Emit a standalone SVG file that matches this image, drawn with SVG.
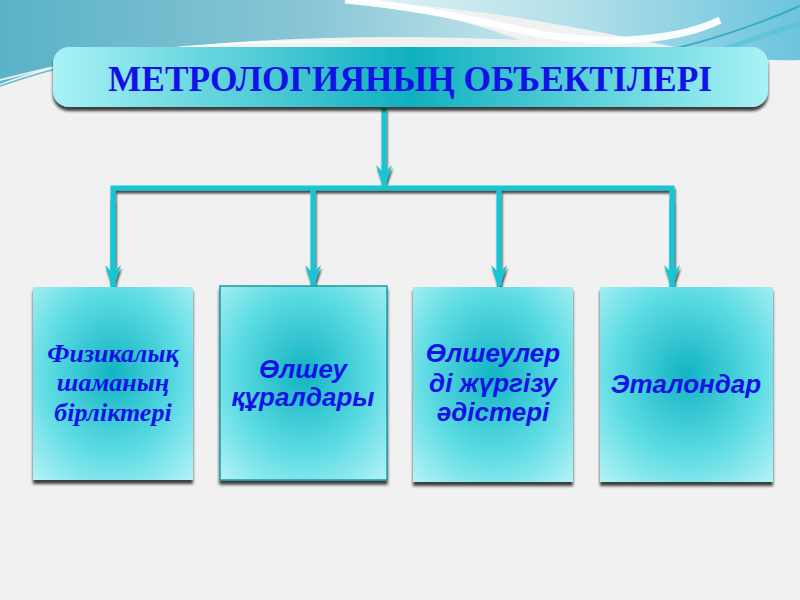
<svg xmlns="http://www.w3.org/2000/svg" width="800" height="600" viewBox="0 0 800 600">
<defs>
<linearGradient id="titleGrad" x1="0" y1="0" x2="1" y2="0">
<stop offset="0" stop-color="#a8f2f6"/>
<stop offset="0.5" stop-color="#0fb0bf"/>
<stop offset="1" stop-color="#a8f2f6"/>
</linearGradient>
<radialGradient id="boxGrad" cx="0.5" cy="0.45" r="0.75">
<stop offset="0" stop-color="#12b4c2"/>
<stop offset="0.55" stop-color="#5cdbe3"/>
<stop offset="1" stop-color="#b5f4f7"/>
</radialGradient>
<linearGradient id="bgTeal" x1="0" y1="0" x2="1" y2="0">
<stop offset="0" stop-color="#5ab2c6"/>
<stop offset="0.6" stop-color="#8ac6d6"/>
<stop offset="1" stop-color="#c0e4ec"/>
</linearGradient>
<linearGradient id="bgRight" x1="0" y1="0" x2="1" y2="0">
<stop offset="0" stop-color="#e4f4f6"/>
<stop offset="0.5" stop-color="#b4e0ea"/>
<stop offset="1" stop-color="#6cc4dc"/>
</linearGradient>
<filter id="shadow" x="-10%" y="-10%" width="120%" height="130%">
<feDropShadow dx="0" dy="4" stdDeviation="1.5" flood-color="#000" flood-opacity="0.75"/>
</filter>
<filter id="lineShadow" x="-10%" y="-10%" width="120%" height="130%">
<feDropShadow dx="1" dy="3" stdDeviation="0.8" flood-color="#000" flood-opacity="0.7"/>
</filter>
<marker id="arrow" markerWidth="24" markerHeight="18" refX="21" refY="9" orient="auto" markerUnits="userSpaceOnUse" viewBox="0 0 24 18">
<path d="M0,1 L8,9 L0,17 L24,9 Z" fill="#12c6d4"/>
</marker>
</defs>
<style>
.conn { stroke: #12c6d4; stroke-width: 5; fill: none; }
.box { fill: url(#boxGrad); filter: url(#shadow); }
.lbl { fill: #1212e6; font-weight: bold; font-style: italic; text-anchor: middle; }
.serif { font-family: "Liberation Serif", "Times New Roman", serif; font-size: 26px; }
.sans { font-family: "Liberation Sans", Arial, sans-serif; font-size: 26px; }
</style>

<!-- background -->
<rect x="0" y="0" width="800" height="600" fill="#f1f1f1"/>
<path d="M340,0 H800 V60 C740,62 690,50 640,40 C560,24 470,6 340,0 Z" fill="url(#bgRight)"/>
<path d="M0,0 H350 C420,8 470,22 520,40 C400,34 250,36 120,54 C70,62 30,72 0,84 Z" fill="url(#bgTeal)"/>
<path d="M345,0 C430,8 480,22 540,34 C610,46 680,40 720,20" fill="none" stroke="#ffffff" stroke-width="7" opacity="0.95"/>
<path d="M620,60 C690,48 750,28 800,6" fill="none" stroke="#2fa8c4" stroke-width="2" opacity="0.9"/>
<path d="M690,60 C730,48 770,32 800,24" fill="none" stroke="#56c2d8" stroke-width="5" opacity="0.7"/>
<path d="M0,80 C40,70 80,60 120,54 C200,44 280,40 350,42" fill="none" stroke="#ffffff" stroke-width="2" opacity="0.8"/>
<path d="M0,86 C30,76 60,66 100,60" fill="none" stroke="#3bb0c0" stroke-width="1.5" opacity="0.8"/>

<!-- connectors -->
<g id="connectors" filter="url(#lineShadow)">
<path class="conn" d="M384,108 V186" marker-end="url(#arrow)"/>
<path class="conn" d="M113,288 V188 H672 V288"/>
<path class="conn" d="M113,200 V286" marker-end="url(#arrow)"/>
<path class="conn" d="M313,188 V286" marker-end="url(#arrow)"/>
<path class="conn" d="M499,188 V286" marker-end="url(#arrow)"/>
<path class="conn" d="M672,200 V286" marker-end="url(#arrow)"/>
</g>

<!-- title -->
<g id="title">
<rect x="53" y="47" width="715" height="60" rx="16" ry="16" fill="url(#titleGrad)" filter="url(#shadow)"/>
<text x="410" y="91" text-anchor="middle" font-family="Liberation Serif, 'Times New Roman', serif" font-size="36" font-weight="bold" fill="#1212e6" textLength="604" lengthAdjust="spacingAndGlyphs">МЕТРОЛОГИЯНЫҢ ОБЪЕКТІЛЕРІ</text>
</g>

<!-- nodes -->
<g id="node1">
<rect class="box" x="33" y="287" width="160" height="193"/>
<text class="lbl serif" x="113" y="362">Физикалық</text>
<text class="lbl serif" x="113" y="391">шаманың</text>
<text class="lbl serif" x="113" y="421">бірліктері</text>
</g>
<g id="node2">
<rect class="box" x="220" y="286" width="167" height="194" stroke="#1a9aa6" stroke-width="1.5"/>
<text class="lbl sans" x="303" y="378">Өлшеу</text>
<text class="lbl sans" x="303" y="406">құралдары</text>
</g>
<g id="node3">
<rect class="box" x="413" y="287" width="160" height="195"/>
<text class="lbl sans" x="493" y="362">Өлшеулер</text>
<text class="lbl sans" x="493" y="392">ді жүргізу</text>
<text class="lbl sans" x="493" y="421">әдістері</text>
</g>
<g id="node4">
<rect class="box" x="600" y="287" width="173" height="195"/>
<text class="lbl sans" x="686" y="393">Эталондар</text>
</g>
</svg>
